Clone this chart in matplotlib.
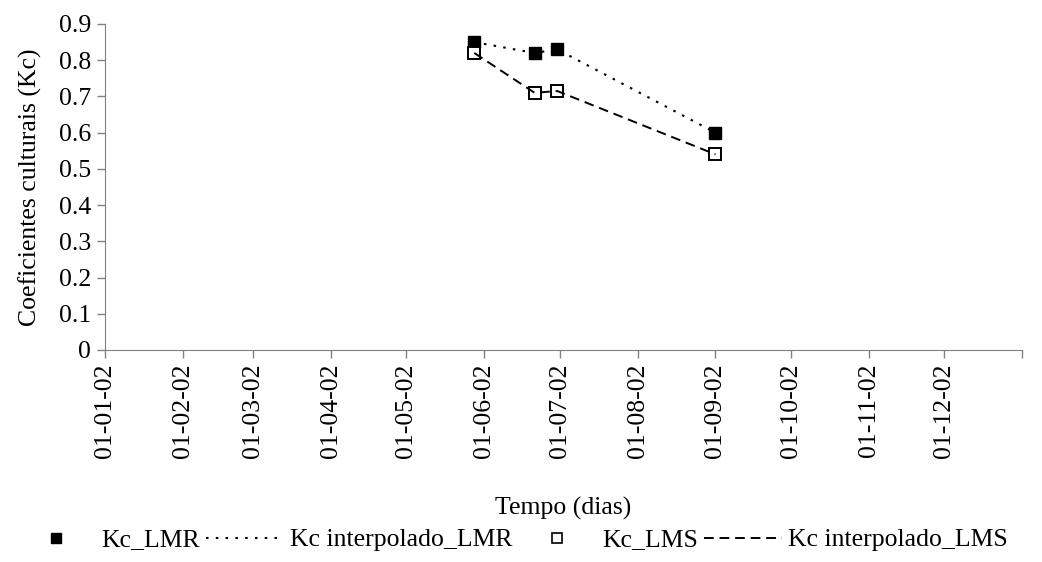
import matplotlib.pyplot as plt
import numpy as np
from datetime import date

plt.rcParams['font.family'] = ['Liberation Serif', 'DejaVu Serif']

# datas das medições e valores de Kc
datas = [date(2002, 5, 28), date(2002, 6, 21), date(2002, 6, 30), date(2002, 9, 1)]
kc_lmr = [0.85, 0.82, 0.83, 0.60]
kc_lms = [0.82, 0.71, 0.715, 0.54]

meses = [date(2002, m, 1) for m in range(1, 13)]
rotulos_x = [d.strftime('%d-%m-%y') for d in meses]
yticks = [0, 0.1, 0.2, 0.3, 0.4, 0.5, 0.6, 0.7, 0.8, 0.9]
rotulos_y = ['0', '0.1', '0.2', '0.3', '0.4', '0.5', '0.6', '0.7', '0.8', '0.9']

fs = 18.5

fig = plt.figure(figsize=(10.42, 5.62), dpi=100)
ax = fig.add_axes([105 / 1042, 1 - 350 / 562, (1022 - 105) / 1042, (350 - 24) / 562])

ax.plot(datas, kc_lmr, ls='none', marker='s', ms=8, mfc='black', mec='black', label='Kc_LMR')
ax.plot(datas, kc_lmr, ls=(0, (1.2, 3.5)), color='black', lw=1.5, label='Kc interpolado_LMR')
ax.plot(datas, kc_lms, ls='none', marker='s', ms=8, mfc='white', mec='black', mew=1.4, label='Kc_LMS')
ax.plot(datas, kc_lms, ls=(0, (5, 3)), color='black', lw=1.4, label='Kc interpolado_LMS')

ax.set_xlim(date(2002, 1, 1), date(2003, 1, 1))
ax.set_ylim(0, 0.9)
ax.set_xticks(meses + [date(2003, 1, 1)])
ax.set_xticklabels(rotulos_x + [''], rotation=90, fontsize=fs)
ax.set_yticks(yticks)
ax.set_yticklabels(rotulos_y, fontsize=fs)

for s in ['top', 'right']:
    ax.spines[s].set_visible(False)
for s in ['left', 'bottom']:
    ax.spines[s].set_color('#808080')
ax.tick_params(direction='out', length=6, color='#808080', width=1, pad=4)

ax.set_ylabel('Coeficientes culturais (Kc)', fontsize=fs, labelpad=12)
ax.set_xlabel('Tempo (dias)', fontsize=fs, labelpad=28)

handles, labels = ax.get_legend_handles_labels()
handles[0] = plt.Line2D([], [], ls='none', marker='s', ms=7, mfc='black', mec='black')
handles[2] = plt.Line2D([], [], ls='none', marker='s', ms=7, mfc='white', mec='black', mew=1.2)
fig.legend(handles, labels, loc='center', bbox_to_anchor=(0.492, 1 - 540 / 562), ncol=4,
           frameon=False, fontsize=fs, handlelength=3.0, columnspacing=0.25, handletextpad=0.25)

fig.savefig('out.png', dpi=100)
